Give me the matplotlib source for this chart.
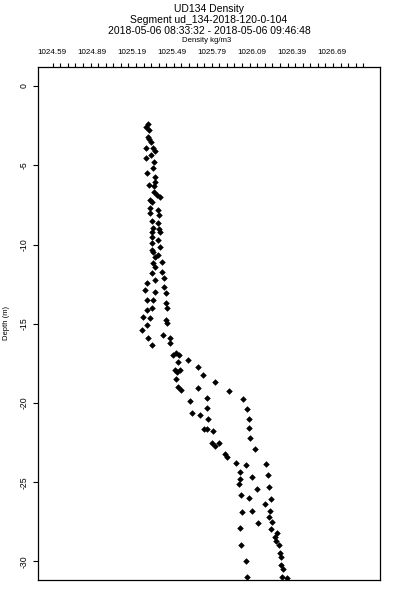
import numpy as np
import matplotlib
matplotlib.use("Agg")
import matplotlib.pyplot as plt

plt.rcParams['font.family'] = ['Liberation Sans', 'DejaVu Sans']

title_lines = ["UD134 Density",
               "Segment ud_134-2018-120-0-104",
               "2018-05-06 08:33:32 - 2018-05-06 09:46:48"]
x_label = "Density kg/m3"
y_label = "Depth (m)"

density = [
    1025.312, 1025.297, 1025.320, 1025.312, 1025.320, 1025.335, 1025.297, 1025.350,
    1025.365, 1025.335, 1025.297, 1025.357, 1025.350, 1025.305, 1025.365, 1025.365,
    1025.320, 1025.357, 1025.357, 1025.380, 1025.402, 1025.327, 1025.342, 1025.327,
    1025.387, 1025.327, 1025.395, 1025.342, 1025.387, 1025.350, 1025.395, 1025.342,
    1025.402,
    1025.342, 1025.387, 1025.342, 1025.402, 1025.342, 1025.350, 1025.387, 1025.365,
    1025.350, 1025.417, 1025.365, 1025.342, 1025.417, 1025.365, 1025.432, 1025.305,
    1025.290, 1025.365, 1025.432, 1025.447, 1025.305, 1025.350, 1025.447, 1025.455,
    1025.305, 1025.342, 1025.275, 1025.327, 1025.447, 1025.455, 1025.305, 1025.267,
    1025.425, 1025.477, 1025.477, 1025.312, 1025.342,
    1025.500, 1025.522, 1025.545, 1025.612, 1025.537, 1025.687, 1025.515, 1025.530,
    1025.552, 1025.725, 1025.522, 1025.815, 1025.537, 1025.560, 1025.687, 1025.920,
    1025.755, 1026.025, 1025.627, 1026.055, 1025.755, 1025.642, 1025.702, 1026.070,
    1025.762, 1025.733, 1025.755, 1025.800, 1026.070, 1026.077, 1025.792, 1025.815,
    1025.845, 1026.115, 1025.890, 1025.905,
    1025.972, 1026.047, 1026.197, 1026.002, 1026.212, 1026.092, 1026.002, 1025.995,
    1026.130, 1026.220, 1026.010, 1026.070, 1026.235, 1026.190, 1026.017, 1026.092,
    1026.227, 1026.220, 1026.242, 1026.137, 1026.235, 1026.002, 1026.280, 1026.265,
    1026.272, 1026.295, 1026.010, 1026.302, 1026.310, 1026.047, 1026.310, 1026.325,
    1026.055, 1026.317, 1026.355,
]
depth = [
    -2.40, -2.59, -2.78, -3.22, -3.34, -3.53, -3.91, -3.91,
    -4.10, -4.35, -4.54, -4.79, -5.17, -5.49, -5.74, -6.06,
    -6.25, -6.31, -6.69, -6.88, -7.00, -7.19, -7.32, -7.70,
    -7.82, -8.01, -8.14, -8.52, -8.64, -8.96, -9.02, -9.21,
    -9.21,
    -9.53, -9.72, -9.91, -10.16, -10.35, -10.47, -10.66, -10.79,
    -11.17, -11.10, -11.42, -11.80, -11.74, -12.24, -12.11, -12.43,
    -12.87, -13.00, -12.68, -13.06, -13.50, -13.50, -13.69, -14.01,
    -14.13, -14.01, -14.57, -14.64, -14.76, -14.95, -15.08, -15.39,
    -15.71, -15.90, -16.21, -15.90, -16.34,
    -16.97, -16.85, -16.97, -17.29, -17.41, -17.73, -17.92, -18.04,
    -17.92, -18.23, -18.49, -18.68, -18.99, -19.18, -19.05, -19.24,
    -19.68, -19.75, -19.87, -20.38, -20.32, -20.63, -20.76, -21.01,
    -21.01, -21.64, -21.64, -21.77, -21.58, -22.21, -22.52, -22.71,
    -22.52, -22.90, -23.22, -23.41,
    -23.79, -23.91, -23.85, -24.35, -24.54, -24.67, -24.80, -25.11,
    -25.43, -25.30, -25.80, -25.99, -26.06, -26.37, -26.88, -26.81,
    -26.81, -27.19, -27.51, -27.57, -27.95, -27.89, -28.20, -28.45,
    -28.71, -28.96, -28.96, -29.46, -29.72, -29.97, -30.22, -30.47,
    -30.98, -30.98, -31.04,
]

x_tick_values = [1024.59, 1024.89, 1025.19, 1025.49, 1025.79, 1026.09, 1026.39, 1026.69]
x_tick_labels = ["1024.59", "1024.89", "1025.19", "1025.49", "1025.79", "1026.09", "1026.39", "1026.69"]
y_tick_values = [0, -5, -10, -15, -20, -25, -30]
y_tick_labels = ["0", "-5", "-10", "-15", "-20", "-25", "-30"]

W, H = 400, 600
fig = plt.figure(figsize=(4, 6), dpi=100)
left, right, top, bottom = 38, 380, 66.7, 580
ax = fig.add_axes([left / W, 1 - bottom / H, (right - left) / W, (bottom - top) / H])

ax.plot(density, depth, linestyle='none', marker='D', markersize=2.9,
        markeredgewidth=0.4, color='black', clip_on=True)

ax.set_xlim(1024.487, 1027.052)
ax.set_ylim(-31.17, 1.22)

# top x axis
ax.xaxis.set_ticks_position('top')
ax.set_xticks(x_tick_values)
ax.set_xticklabels(x_tick_labels, fontsize=5.8)
ax.tick_params(axis='x', which='major', length=0, pad=8.0)
minor = 1024.5975 + 0.0568 * np.arange(42)
ax.set_xticks(minor, minor=True)
ax.tick_params(axis='x', which='minor', length=3.2, width=0.8, direction='out', top=True, bottom=False)

ax.set_yticks(y_tick_values)
ax.set_yticklabels(y_tick_labels, fontsize=6.3, rotation=90, va='center')
ax.tick_params(axis='y', which='major', length=3.5, width=0.8, direction='out', pad=3)

for s in ax.spines.values():
    s.set_linewidth(0.9)

fig.text(7 / W, 1 - 323 / H, y_label, rotation=90, fontsize=5.5, ha='center', va='center')

cx = (left + right) / 2 / W
fig.text(cx, 1 - 9 / H, title_lines[0], fontsize=7.5, ha='center', va='center')
fig.text(cx, 1 - 20 / H, title_lines[1], fontsize=7.5, ha='center', va='center')
fig.text(cx, 1 - 31 / H, title_lines[2], fontsize=7.5, ha='center', va='center')
fig.text(cx - 2 / W, 1 - 41 / H, x_label, fontsize=5.6, ha='center', va='center')

fig.savefig("out.png", dpi=100)
